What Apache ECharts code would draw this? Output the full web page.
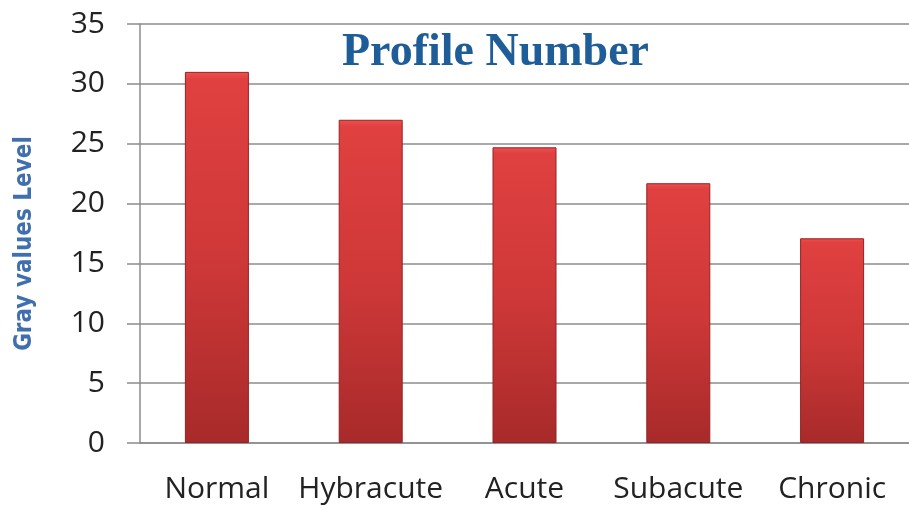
<!DOCTYPE html>
<html style="height: 100%">
<head>
    <meta charset="utf-8">
    <script src="https://cdn.jsdelivr.net/npm/echarts@6/dist/echarts.min.js"></script>
</head>
<body style="height: 100%; margin: 0; background: #fff;">
<div id="container" style="width: 909px; height: 507px;"></div>
<script type="text/javascript">
    // data
    var categories = ['Normal', 'Hybracute', 'Acute', 'Subacute', 'Chronic'];
    var grayValues = [31, 27, 24.7, 21.7, 17.1];
    var yTicks = { min: 0, max: 35, interval: 5 };

    var myChart = echarts.init(document.getElementById('container'));
    var gridColor = '#8c8c8c';

    var option = {
        animation: false,
        backgroundColor: '#fff',
        title: {
            text: 'Profile Number',
            left: 342,
            top: 30,
            padding: 0,
            textStyle: {
                fontFamily: 'Liberation Serif',
                fontWeight: 'bold',
                fontSize: 46,
                color: '#1f5d98'
            }
        },
        grid: {
            left: 140,
            right: 0,
            top: 24,
            bottom: 64
        },
        xAxis: {
            type: 'category',
            data: categories,
            axisLine: { lineStyle: { color: gridColor, width: 1.5 } },
            axisTick: { length: 10, lineStyle: { color: gridColor, width: 1.5 } },
            axisLabel: {
                interval: 0,
                margin: 31,
                fontFamily: 'Open Sans',
                fontSize: 30,
                color: '#222'
            }
        },
        yAxis: {
            type: 'value',
            min: yTicks.min,
            max: yTicks.max,
            interval: yTicks.interval,
            name: 'Gray values Level',
            nameLocation: 'middle',
            nameGap: 103,
            nameTextStyle: {
                fontFamily: "'DejaVu Sans Condensed', 'Liberation Sans', sans-serif",
                fontWeight: 'bold',
                fontSize: 24,
                color: '#3f6fae',
                padding: [0, 20, 0, 0]
            },
            axisLine: { show: true, lineStyle: { color: gridColor, width: 1.5 } },
            axisTick: { show: true, length: 13, lineStyle: { color: gridColor, width: 1.5 } },
            splitLine: { lineStyle: { color: gridColor, width: 1.5 } },
            axisLabel: {
                margin: 35,
                fontFamily: 'Open Sans',
                fontSize: 30,
                color: '#222'
            }
        },
        series: [{
            name: 'Profile Number',
            type: 'bar',
            data: grayValues,
            barWidth: 64,
            itemStyle: {
                borderColor: '#952222',
                borderWidth: 1,
                color: new echarts.graphic.LinearGradient(0, 0, 0, 1, [
                    { offset: 0, color: '#f05050' },
                    { offset: 0.02, color: '#e04040' },
                    { offset: 0.5, color: '#cf3838' },
                    { offset: 1, color: '#a82a2a' }
                ])
            }
        }]
    };

    myChart.setOption(option);
</script>
</body>
</html>
